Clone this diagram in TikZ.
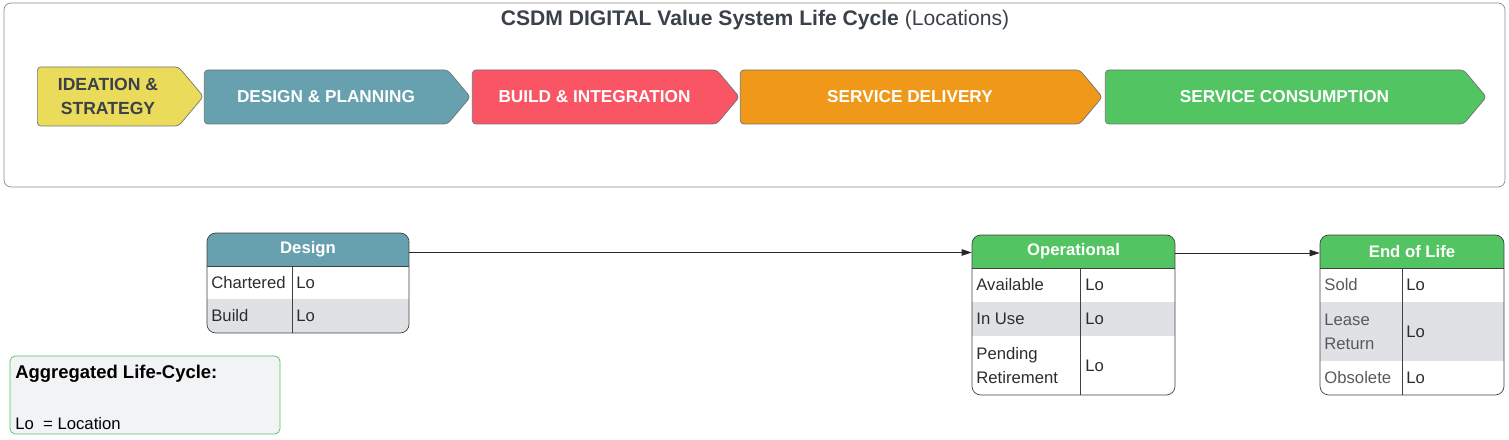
\documentclass[tikz,border=0pt]{standalone}
\usepackage{fontspec}
\setmainfont{Liberation Sans}
\usetikzlibrary{arrows.meta,positioning,shapes.symbols}
\definecolor{csyellow}{HTML}{EBDB5B}
\definecolor{csteal}{HTML}{67A1AF}
\definecolor{csred}{HTML}{F95565}
\definecolor{csorange}{HTML}{F09819}
\definecolor{csgreen}{HTML}{53C462}
\definecolor{csrow}{HTML}{DFE1E5}
\definecolor{cslegend}{HTML}{F2F3F5}
\definecolor{cstitle}{HTML}{3B4149}
\definecolor{cstext}{HTML}{2A2D31}
\tikzset{
  phase/.style={signal, signal to=east, signal pointer angle=100, draw=black!55, rounded corners=2pt,
    minimum height=10.8mm, font=\fontsize{9.8}{11.5}\selectfont\bfseries, text=white, align=center, inner sep=0pt},
  tblbox/.style={draw=black!75, rounded corners=5pt, inner sep=0pt},
  tblhead/.style={minimum height=6.6mm, font=\fontsize{9.5}{11}\selectfont\bfseries, text=white, inner sep=0pt},
  cell/.style={anchor=west, font=\fontsize{9.5}{13.5}\selectfont, text=cstext, align=left, inner sep=0pt},
  flow/.style={-{Triangle[length=2mm,width=1.3mm]}, black!85}
}
\begin{document}
\begin{tikzpicture}[x=0.2mm, y=-0.2mm]
  \useasboundingbox (0,0) rectangle (1509,440);

  % Value system frame
  \node[draw=black!45, rounded corners=4pt, minimum width=300.2mm, minimum height=36.8mm] (frame) at (754.5,95) {};
  \node[font=\fontsize{12}{14}\selectfont, text=cstitle] (title) at (755,20) {\textbf{CSDM DIGITAL Value System Life Cycle} (Locations)};

  % Phases
  \node[phase, fill=csyellow, text=cstitle, minimum width=33.2mm, minimum height=11.8mm,
    font=\fontsize{10}{14}\selectfont\bfseries] (ideation) at (108,96.5) {IDEATION \&\\STRATEGY};
  \node[phase, fill=csteal, minimum width=53.2mm] (planning) at (326,97) {DESIGN \& PLANNING};
  \node[phase, fill=csred, minimum width=53.4mm] (build) at (594.5,97) {BUILD \& INTEGRATION};
  \node[phase, fill=csorange, minimum width=72.4mm] (delivery) at (910,97) {SERVICE DELIVERY};
  \node[phase, fill=csgreen, minimum width=76.2mm] (consumption) at (1284.5,97) {SERVICE CONSUMPTION};

  % Design
  \begin{scope}
    \clip[rounded corners=5pt] (207,233) rectangle (409,333);
    \fill[csteal] (207,233) rectangle (409,266);
    \fill[csrow] (207,299) rectangle (409,333);
  \end{scope}
  \node[tblbox, minimum width=40.4mm, minimum height=20mm] (design) at (308,283) {};
  \node[tblhead, minimum width=40.4mm] (designhead) at (308,249.5) {Design};
  \draw[black!75] (designhead.south west) -- (designhead.south east);
  \draw[black!75] (292,266) -- (292,333);
  \node[cell] (chartered) at (211,282.5) {Chartered};
  \node[cell] (charteredlo) at (296,282.5) {Lo};
  \node[cell] (buildrow) at (211,316) {Build};
  \node[cell] (buildlo) at (296,316) {Lo};

  % Operational
  \begin{scope}
    \clip[rounded corners=5pt] (972,235) rectangle (1175,395);
    \fill[csgreen] (972,235) rectangle (1175,268);
    \fill[csrow] (972,302) rectangle (1175,336);
  \end{scope}
  \node[tblbox, minimum width=40.6mm, minimum height=32mm] (oper) at (1073.5,315) {};
  \node[tblhead, minimum width=40.6mm] (operhead) at (1073.5,251.5) {Operational};
  \draw[black!75] (operhead.south west) -- (operhead.south east);
  \draw[black!75] (1080,268) -- (1080,395);
  \node[cell] (available) at (976,285) {Available};
  \node[cell] (availablelo) at (1085,285) {Lo};
  \node[cell] (inuse) at (976,319) {In Use};
  \node[cell] (inuselo) at (1085,319) {Lo};
  \node[cell] (pending) at (976,365.5) {Pending\\Retirement};
  \node[cell] (pendinglo) at (1085,365.5) {Lo};

  % End of Life
  \begin{scope}
    \clip[rounded corners=5pt] (1320,235) rectangle (1504,395);
    \fill[csgreen] (1320,235) rectangle (1504,268);
    \fill[csrow] (1320,302) rectangle (1504,361);
  \end{scope}
  \node[tblbox, minimum width=36.8mm, minimum height=32mm] (eol) at (1412,315) {};
  \node[tblhead, minimum width=36.8mm] (eolhead) at (1412,251.5) {End of Life};
  \draw[black!75] (eolhead.south west) -- (eolhead.south east);
  \draw[black!75] (1402,268) -- (1402,395);
  \node[cell, text=black!65] (sold) at (1324,285) {Sold};
  \node[cell] (soldlo) at (1406,285) {Lo};
  \node[cell, text=black!65] (lease) at (1324,331.5) {Lease\\Return};
  \node[cell] (leaselo) at (1406,331.5) {Lo};
  \node[cell, text=black!65] (obsolete) at (1324,378) {Obsolete};
  \node[cell] (obsoletelo) at (1406,378) {Lo};

  % Transitions
  \draw[flow] ([yshift=-0.6mm]designhead.east) -- ([yshift=-0.6mm]designhead.east -| oper.west);
  \draw[flow] ([yshift=-0.3mm]operhead.east) -- ([yshift=-0.3mm]eolhead.west);

  % Legend
  \node[draw=csgreen, fill=cslegend, rounded corners=3pt, minimum width=54mm, minimum height=15.6mm] (legend) at (145,395) {};
  \node[cell, font=\fontsize{10.5}{12}\selectfont\bfseries, text=black] (legendtitle) at (15,374) {Aggregated Life-Cycle:};
  \node[cell, text=black] (legendkey) at (15,424) {Lo \ = Location};
\end{tikzpicture}
\end{document}
